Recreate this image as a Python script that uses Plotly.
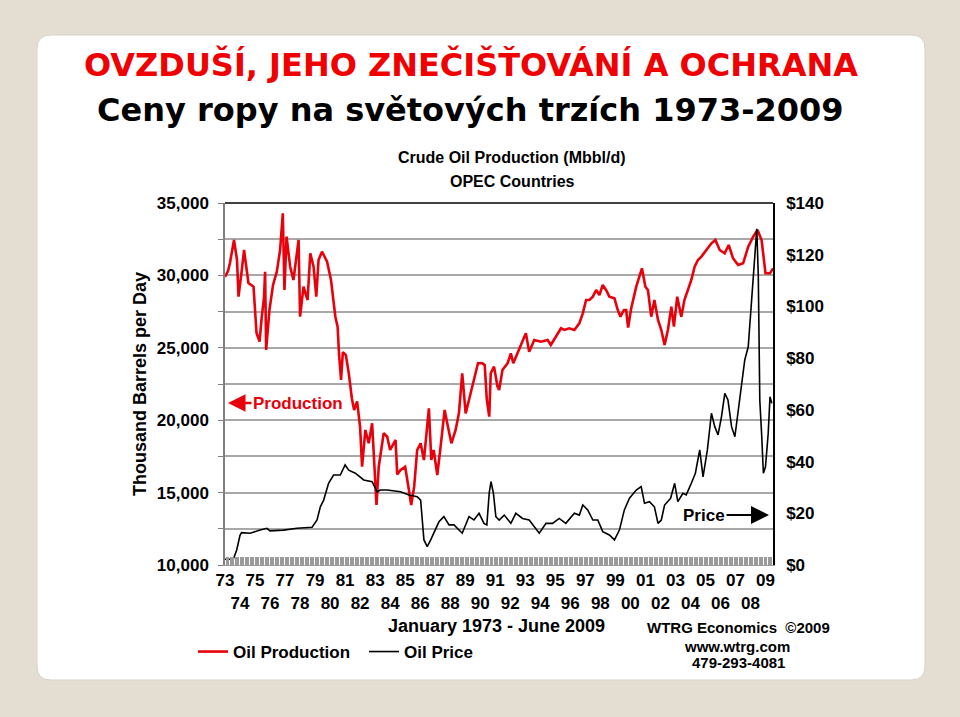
import plotly.graph_objects as go

# ---------------- data ----------------
prod_t = [1973.0, 1973.2, 1973.33, 1973.6, 1973.8, 1973.9, 1974.1, 1974.27, 1974.56, 1974.9,
          1975.1, 1975.3, 1975.45, 1975.6, 1975.67, 1975.74, 1975.96, 1976.2, 1976.45, 1976.67,
          1976.85, 1976.96, 1977.1, 1977.34, 1977.56, 1977.9, 1978.0, 1978.23, 1978.5, 1978.68,
          1978.9, 1979.08, 1979.23, 1979.46, 1979.8, 1980.06, 1980.35, 1980.5, 1980.6, 1980.73,
          1980.85, 1981.05, 1981.25, 1981.45, 1981.6, 1981.8, 1982.0, 1982.13, 1982.35, 1982.57,
          1982.8, 1983.09, 1983.24, 1983.57, 1983.8, 1984.0, 1984.36, 1984.47, 1984.7, 1985.0,
          1985.25, 1985.4, 1985.6, 1985.8, 1986.03, 1986.25, 1986.58, 1986.74, 1986.9, 1987.14,
          1987.36, 1987.63, 1987.85, 1988.08, 1988.36, 1988.58, 1988.8, 1989.03, 1989.25, 1989.58,
          1989.85, 1990.15, 1990.3, 1990.44, 1990.6, 1990.7, 1990.92, 1991.15, 1991.26, 1991.48,
          1991.82, 1992.04, 1992.2, 1992.48, 1992.82, 1993.04, 1993.26, 1993.6, 1994.04, 1994.49,
          1994.7, 1995.04, 1995.38, 1995.6, 1995.93, 1996.27, 1996.6, 1996.83, 1997.05, 1997.27,
          1997.5, 1997.72, 1997.94, 1998.16, 1998.38, 1998.6, 1998.94, 1999.16, 1999.34, 1999.57,
          1999.72, 1999.85, 2000.05, 2000.39, 2000.6, 2000.77, 2001.0, 2001.17, 2001.39, 2001.6,
          2001.84, 2002.06, 2002.28, 2002.5, 2002.73, 2002.9, 2003.12, 2003.39, 2003.6, 2003.83,
          2004.06, 2004.28, 2004.5, 2004.73, 2005.06, 2005.4, 2005.66, 2005.95, 2006.28, 2006.55,
          2006.84, 2007.18, 2007.51, 2007.85, 2008.18, 2008.47, 2008.74, 2009.0, 2009.3, 2009.5]
prod_v = [29900, 30300, 30856, 32445, 31064, 28530, 30200, 31754, 29475, 29220,
          26022, 25422, 27150, 28500, 30256, 24848, 27610, 29337, 30256, 31754,
          34290, 28992, 32675, 30600, 29682, 32445, 27150, 29220, 28300, 31526,
          30600, 28530, 31064, 31640, 30946, 29682, 27150, 26457, 24500, 22776,
          24700, 24500, 23200, 21500, 20700, 21300, 19500, 16789, 19324, 18405,
          19786, 14145, 16789, 19096, 18861, 17942, 18636, 16262, 16560, 16789,
          15180, 14145, 15410, 17942, 18405, 17250, 20820, 17250, 17942, 16215,
          18170, 20705, 19552, 18405, 19324, 20475, 23240, 20475, 21396, 22776,
          23930, 23930, 23800, 21396, 20245, 23240, 23695, 22313, 22086, 23467,
          23930, 24620, 23930, 24620, 25540, 26002, 24731, 25540, 25422, 25540,
          25193, 25770, 26347, 26232, 26347, 26232, 26692, 27382, 28300, 28300,
          28530, 28992, 28645, 29337, 28992, 28530, 28415, 27610, 27150, 27610,
          27610, 26400, 27700, 29220, 29910, 30490, 29220, 28992, 27150, 28300,
          26920, 26230, 25193, 26230, 27840, 26457, 28530, 27150, 28300, 28992,
          29682, 30600, 31064, 31295, 31754, 32215, 32445, 31754, 31526, 32100,
          31180, 30718, 30836, 31982, 32675, 33135, 32445, 30145, 30145, 30490]

price_t = [1973.0, 1973.55, 1973.78, 1974.0, 1974.1, 1974.67, 1975.34, 1975.79, 1976.0, 1976.9,
           1977.79, 1978.8, 1979.13, 1979.35, 1979.57, 1979.9, 1980.23, 1980.68, 1981.0, 1981.24,
           1981.68, 1982.24, 1982.8, 1983.13, 1983.35, 1983.8, 1984.69, 1985.25, 1985.8, 1986.03,
           1986.14, 1986.25, 1986.47, 1986.7, 1987.25, 1987.58, 1987.92, 1988.25, 1988.8, 1989.25,
           1989.58, 1989.92, 1990.25, 1990.44, 1990.6, 1990.72, 1990.88, 1991.04, 1991.26, 1991.6,
           1992.04, 1992.37, 1992.82, 1993.26, 1993.93, 1994.38, 1994.82, 1995.26, 1995.7, 1996.27,
           1996.6, 1996.83, 1997.16, 1997.5, 1997.83, 1998.16, 1998.6, 1998.94, 1999.27, 1999.6,
           1999.94, 2000.2, 2000.39, 2000.72, 2000.94, 2001.27, 2001.6, 2001.84, 2002.06, 2002.28,
           2002.68, 2002.95, 2003.16, 2003.5, 2003.72, 2004.06, 2004.33, 2004.62, 2004.84, 2005.13,
           2005.4, 2005.62, 2005.84, 2006.07, 2006.29, 2006.5, 2006.74, 2006.96, 2007.18, 2007.4,
           2007.62, 2007.85, 2008.07, 2008.25, 2008.42, 2008.52, 2008.62, 2008.74, 2008.86, 2009.0,
           2009.18, 2009.3, 2009.42]
price_v = [2.2, 2.2, 5.8, 11.5, 12.5, 12.3, 13.5, 14.2, 13.2, 13.5,
           14.2, 14.6, 17.4, 22.5, 25.1, 31.6, 34.8, 34.8, 38.7, 36.7,
           35.5, 32.9, 32.2, 28.3, 29.0, 29.0, 28.3, 27.1, 26.4, 25.1,
           17.4, 9.7, 7.1, 9.7, 16.7, 18.7, 15.5, 15.5, 12.3, 18.7,
           17.4, 20.0, 16.1, 15.5, 28.0, 32.2, 27.7, 18.7, 17.4, 19.3,
           16.1, 20.0, 18.0, 17.4, 12.3, 16.1, 16.1, 18.0, 16.1, 20.0,
           19.3, 23.2, 21.3, 17.4, 17.4, 12.9, 11.6, 9.7, 13.5, 21.3,
           25.8, 27.5, 29.0, 30.3, 23.9, 24.5, 22.5, 16.1, 17.4, 23.2,
           25.8, 31.6, 24.5, 27.7, 27.1, 31.6, 35.5, 44.5, 34.1, 44.5,
           58.7, 53.5, 50.3, 57.4, 66.4, 63.8, 53.5, 49.6, 59.9, 69.0,
           79.3, 84.4, 102.5, 119.2, 130.0, 112.0, 63.8, 50.9, 35.5, 38.0,
           50.9, 65.1, 62.5]

years = list(range(1973, 2010))
left_ticks = list(range(10000, 35001, 2500))
right_ticks = list(range(0, 141, 20))

# ---------------- helpers ----------------
FONT = "Arial, Liberation Sans, sans-serif"
L, R, T, B = 225, 773, 203, 565
W, H = 960, 717


def px(x):
    return (x - L) / (R - L)


def py(y):
    return (B - y) / (B - T)


x_text = [(f"{y % 100:02d}" if (y - 1973) % 2 == 0 else "<br>" + f"{y % 100:02d}") for y in years]
left_text = [(f"{v:,}" if v % 5000 == 0 else "") for v in left_ticks]
right_text = [f"${v}" for v in right_ticks]

fig = go.Figure()
fig.add_trace(go.Scatter(x=prod_t, y=prod_v, mode="lines", name="Oil Production",
                         line=dict(color="#e8000b", width=2.6), yaxis="y"))
fig.add_trace(go.Scatter(x=price_t, y=price_v, mode="lines", name="Oil Price",
                         line=dict(color="black", width=1.6), yaxis="y2"))

# panel (rounded white slide area)
x0, x1 = px(37), px(925)
y0, y1 = py(680), py(35)
rx, ry = 14 / (R - L), 14 / (B - T)
panel = (f"M {x0+rx},{y1} L {x1-rx},{y1} Q {x1},{y1} {x1},{y1-ry} L {x1},{y0+ry} "
         f"Q {x1},{y0} {x1-rx},{y0} L {x0+rx},{y0} Q {x0},{y0} {x0},{y0+ry} "
         f"L {x0},{y1-ry} Q {x0},{y1} {x0+rx},{y1} Z")
fig.add_shape(type="path", path=panel, xref="paper", yref="paper", layer="below",
              fillcolor="white", line=dict(color="#d8d2c8", width=1))
# top frame line
fig.add_shape(type="line", xref="paper", yref="paper", x0=0, x1=1, y0=1, y1=1,
              line=dict(color="black", width=1.5))

ann = []
ann.append(dict(text="OVZDUŠÍ, JEHO ZNEČIŠŤOVÁNÍ A OCHRANA", xref="paper", yref="paper",
                x=px(82), y=py(64), xanchor="left", yanchor="middle", showarrow=False,
                font=dict(family="DejaVu Sans", size=32, color="#f00000", weight="bold")))
ann.append(dict(text="Ceny ropy na světových trzích 1973-2009", xref="paper", yref="paper",
                x=px(95), y=py(110), xanchor="left", yanchor="middle", showarrow=False,
                font=dict(family="DejaVu Sans", size=32, color="black", weight="bold")))
ann.append(dict(text="Crude Oil Production (Mbbl/d)", xref="paper", yref="paper",
                x=px(512), y=py(158), xanchor="center", yanchor="middle", showarrow=False,
                font=dict(family=FONT, size=16, color="black", weight="bold")))
ann.append(dict(text="OPEC Countries", xref="paper", yref="paper",
                x=px(512), y=py(181), xanchor="center", yanchor="middle", showarrow=False,
                font=dict(family=FONT, size=16, color="black", weight="bold")))
ann.append(dict(text="January 1973 - June 2009", xref="paper", yref="paper",
                x=px(496), y=py(626), xanchor="center", yanchor="middle", showarrow=False,
                font=dict(family=FONT, size=18, color="black", weight="bold")))
ann.append(dict(text="WTRG Economics  ©2009", xref="paper", yref="paper",
                x=px(738), y=py(627), xanchor="center", yanchor="middle", showarrow=False,
                font=dict(family=FONT, size=15, color="black", weight="bold")))
ann.append(dict(text="www.wtrg.com", xref="paper", yref="paper",
                x=px(737), y=py(646), xanchor="center", yanchor="middle", showarrow=False,
                font=dict(family=FONT, size=15, color="black", weight="bold")))
ann.append(dict(text="479-293-4081", xref="paper", yref="paper",
                x=px(738), y=py(662), xanchor="center", yanchor="middle", showarrow=False,
                font=dict(family=FONT, size=15, color="black", weight="bold")))
ann.append(dict(text="Production", xref="paper", yref="paper",
                x=px(228), y=py(403), ax=70, ay=0, showarrow=True,
                arrowhead=2, arrowsize=1.4, arrowwidth=2.5, arrowcolor="#e8000b", standoff=0,
                font=dict(family=FONT, size=17, color="#e8000b", weight="bold")))
ann.append(dict(text="Price", xref="paper", yref="paper",
                x=px(769), y=py(515), ax=-65, ay=0, showarrow=True,
                arrowhead=2, arrowsize=1.8, arrowwidth=2, arrowcolor="black", standoff=0,
                font=dict(family=FONT, size=17, color="black", weight="bold")))

fig.update_layout(
    width=W, height=H, autosize=False,
    margin=dict(l=L, r=W - R, t=T, b=H - B, pad=0),
    paper_bgcolor="#e4ddd1", plot_bgcolor="white",
    font=dict(family=FONT, size=17, color="black"),
    showlegend=True,
    legend=dict(orientation="h", x=px(193), y=py(652), xanchor="left", yanchor="middle",
                bgcolor="rgba(0,0,0,0)", entrywidth=126, entrywidthmode="pixels",
                font=dict(family=FONT, size=17, color="black", weight="bold")),
    annotations=ann,
    xaxis=dict(range=[1973, 2009.5], tickmode="array", tickvals=years, ticktext=x_text,
               ticks="inside", ticklen=8, tickcolor="#9a9a9a", tickwidth=1,
               minor=dict(dtick=1 / 12, tick0=1973, ticks="inside", ticklen=8,
                          tickcolor="#9a9a9a", tickwidth=1),
               showgrid=False, zeroline=False, showline=True, linecolor="#9a9a9a",
               tickfont=dict(family=FONT, size=17, color="black", weight="bold"),
               tickangle=0),
    yaxis=dict(range=[10000, 35000], tickmode="array", tickvals=left_ticks, ticktext=left_text,
               ticks="outside", ticklen=5, tickcolor="#808080",
               showgrid=True, gridcolor="#a8a8a8", gridwidth=1.5, zeroline=False,
               showline=True, linecolor="#808080", linewidth=1.5,
               tickfont=dict(family=FONT, size=17, color="black", weight="bold"),
               ticklabelstandoff=6,
               title=dict(text="Thousand Barrels per Day", standoff=6,
                          font=dict(family=FONT, size=18, color="black", weight="bold"))),
    yaxis2=dict(range=[0, 140], overlaying="y", side="right", tickmode="array",
                tickvals=right_ticks, ticktext=right_text, ticks="",
                showgrid=False, zeroline=False, showline=True, linecolor="black", linewidth=1.5,
                ticklabelstandoff=8,
                tickfont=dict(family=FONT, size=17, color="black", weight="bold")),
)

fig.write_html("out.html")
